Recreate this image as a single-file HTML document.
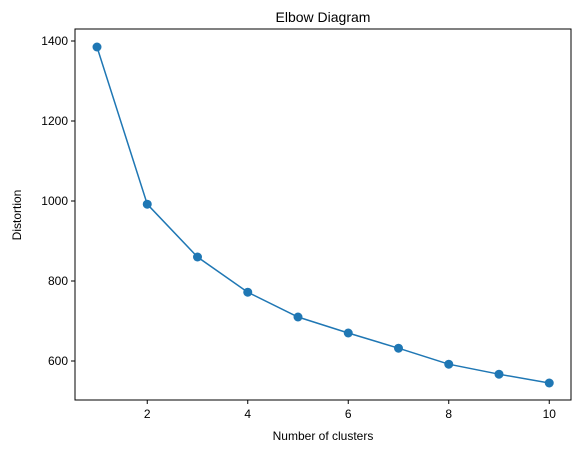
<!DOCTYPE html>
<html><head><meta charset="utf-8"><style>
body{margin:0;background:#fff;}
svg{display:block;font-family:"Liberation Sans","DejaVu Sans",sans-serif;}
</style></head><body>
<svg id="chart" width="580" height="453">
<rect x="0" y="0" width="580" height="453" fill="#fff"/>
<text x="323" y="22" font-size="14" text-anchor="middle">Elbow Diagram</text>
<text x="323" y="440" font-size="12" text-anchor="middle">Number of clusters</text>
<text x="21" y="215" font-size="12" text-anchor="middle" transform="rotate(-90 21 215)">Distortion</text>
<g id="ticks"></g>
<g id="marks"></g>
<rect x="75" y="29" width="496" height="371" fill="none" stroke="#000" stroke-width="1"/>
</svg>
<script>
const clusters=[1,2,3,4,5,6,7,8,9,10];
const distortion=[1385,992,860,772,710,670,632,592,567,545];
const xTicks=[2,4,6,8,10];
const yTicks=[600,800,1000,1200,1400];
const NS="http://www.w3.org/2000/svg";
function xs(v){return 97+(v-1)*50.25;}
function ys(v){return 41+(1400-v)*0.4;}
const tg=document.getElementById('ticks'),mg=document.getElementById('marks');
function mk(tag,attrs,parent){const e=document.createElementNS(NS,tag);for(const k in attrs)e.setAttribute(k,attrs[k]);parent.appendChild(e);return e;}
xTicks.forEach(t=>{
 const l=mk('line',{x1:xs(t),x2:xs(t),y1:400,y2:404,stroke:'#000'},tg);
 
 
 const tx=mk('text',{x:xs(t),y:418,'font-size':12,'text-anchor':'middle'},tg);tx.textContent=t;
 
 
});
yTicks.forEach(t=>{
 const l=mk('line',{x1:71,x2:75,y1:ys(t),y2:ys(t),stroke:'#000'},tg);
 
 
 const tx=mk('text',{x:68,y:ys(t)+4,'font-size':12,'text-anchor':'end'},tg);tx.textContent=t;
 
 
});
const pts=clusters.map((c,i)=>xs(c)+','+ys(distortion[i])).join(' ');
const pl=mk('polyline',{points:pts,fill:'none',stroke:'#1f77b4','stroke-width':1.5},mg);


clusters.forEach((c,i)=>{
 const p=mk('circle',{cx:xs(c),cy:ys(distortion[i]),r:4.5,fill:'#1f77b4'},mg);
 
 
});
</script>
</body></html>
